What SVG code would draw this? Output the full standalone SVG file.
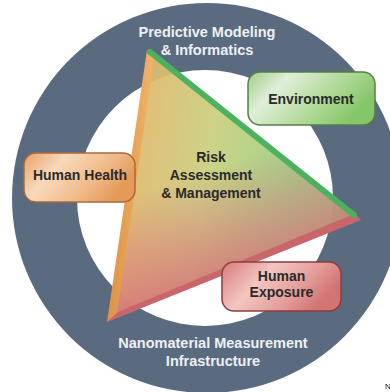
<svg xmlns="http://www.w3.org/2000/svg" width="390" height="392" viewBox="0 0 390 392">
<defs>
<style>
.ring{font-family:"Liberation Sans",Arial,sans-serif;font-weight:bold;font-size:14.5px;fill:#eef1f4;text-anchor:middle}
.lbl{font-family:"Liberation Sans",Arial,sans-serif;font-weight:bold;font-size:14px;fill:#2a2a2a;text-anchor:middle}
</style>
<linearGradient id="gEnv" x1="0" y1="0" x2="1" y2="0.4">
<stop offset="0" stop-color="#9fce86"/><stop offset="0.3" stop-color="#e0eed9"/><stop offset="0.75" stop-color="#a9d68e"/><stop offset="1" stop-color="#86c66a"/>
</linearGradient>
<linearGradient id="gHH" x1="0" y1="0" x2="1" y2="0.4">
<stop offset="0" stop-color="#e9a162"/><stop offset="0.35" stop-color="#f8d9bb"/><stop offset="0.75" stop-color="#efb886"/><stop offset="1" stop-color="#e59a58"/>
</linearGradient>
<linearGradient id="gHE" x1="0" y1="0" x2="1" y2="0.4">
<stop offset="0" stop-color="#d87a7a"/><stop offset="0.4" stop-color="#f3c6c1"/><stop offset="0.75" stop-color="#e39c98"/><stop offset="1" stop-color="#d27474"/>
</linearGradient>
<linearGradient id="gTri" gradientUnits="userSpaceOnUse" x1="110" y1="150" x2="355" y2="190">
<stop offset="0" stop-color="#e8b266"/><stop offset="0.4" stop-color="#c9cf7e"/><stop offset="0.75" stop-color="#98d184"/><stop offset="1" stop-color="#8acb7c"/>
</linearGradient>
<linearGradient id="gRed" gradientUnits="userSpaceOnUse" x1="190" y1="175" x2="228" y2="290">
<stop offset="0" stop-color="#d9777b" stop-opacity="0"/><stop offset="0.55" stop-color="#d9777b" stop-opacity="0.55"/><stop offset="1" stop-color="#d57478" stop-opacity="0.95"/>
</linearGradient>
<linearGradient id="gLeft" x1="0" y1="0" x2="1" y2="0">
<stop offset="0" stop-color="#df9246"/><stop offset="1" stop-color="#efb468"/>
</linearGradient>
</defs>
<g id="ring">
<circle cx="207" cy="198" r="195" fill="#5b6b7f"/>
<circle cx="205" cy="198" r="128" fill="#ffffff"/>
<text class="ring" x="207" y="37">Predictive Modeling</text>
<text class="ring" x="207" y="55">&amp; Informatics</text>
<text class="ring" x="213" y="348">Nanomaterial Measurement</text>
<text class="ring" x="213" y="366">Infrastructure</text>
</g>
<g id="triangle">
<polygon points="149,51 360,219 108,321" fill="url(#gTri)" opacity="0.93"/>
<polygon points="149,51 360,219 108,321" fill="url(#gRed)"/>
<polygon points="147,50 154,58 117,313 107,322" fill="url(#gLeft)"/>
<polygon points="107,322 118,312 354,214 361,220" fill="#c9666b"/>
<line x1="150" y1="52" x2="354" y2="215" stroke="#4cb25f" stroke-width="6" stroke-linecap="round"/>
<text class="lbl" x="211" y="162">Risk</text>
<text class="lbl" x="211" y="180">Assessment</text>
<text class="lbl" x="211" y="198">&amp; Management</text>
</g>
<g id="environment">
<rect x="248" y="72" width="127" height="53" rx="12" fill="url(#gEnv)" stroke="#557f48" stroke-width="1.5"/>
<text class="lbl" x="311" y="104">Environment</text>
</g>
<g id="human-health">
<rect x="24" y="153" width="111" height="49" rx="12" fill="url(#gHH)" stroke="#a9693a" stroke-width="1.5"/>
<text class="lbl" x="80" y="180">Human Health</text>
</g>
<g id="human-exposure">
<rect x="222" y="262" width="119" height="49" rx="12" fill="url(#gHE)" stroke="#8e3d3d" stroke-width="1.5"/>
<text class="lbl" x="281.5" y="281">Human</text>
<text class="lbl" x="281.5" y="297">Exposure</text>
</g>
<g id="connectors"/>
<text x="385" y="389" font-family="Liberation Sans,Arial,sans-serif" font-size="8" fill="#222">N</text>
</svg>
